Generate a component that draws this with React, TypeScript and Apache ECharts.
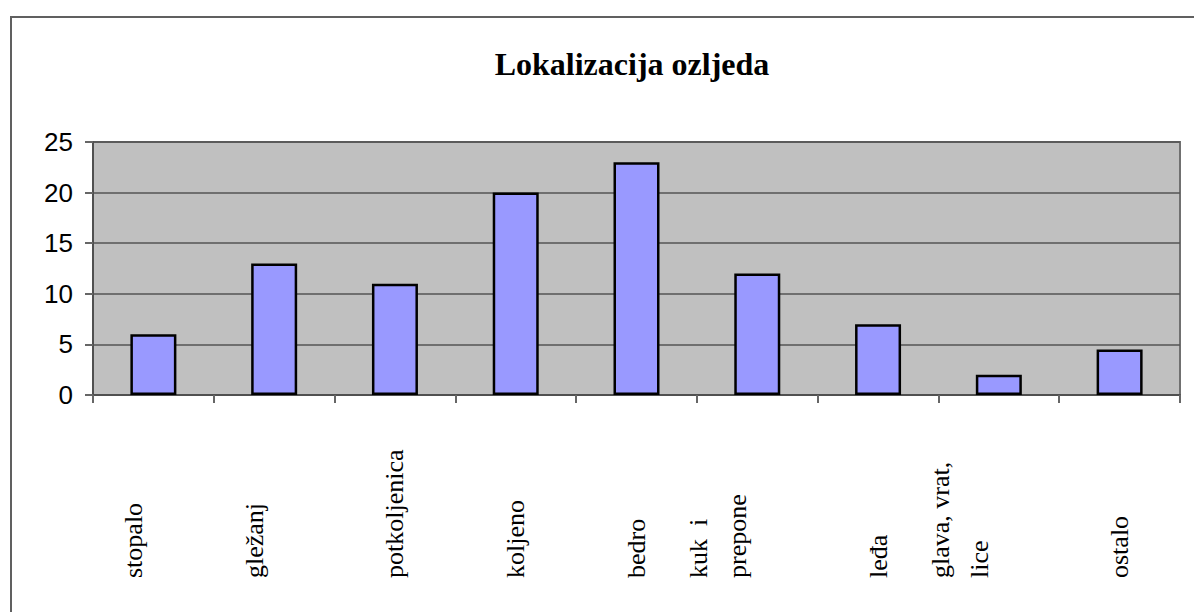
import React, { useEffect, useRef } from "react";
import * as echarts from "echarts";

const titleText = "Lokalizacija ozljeda";
const categories = [
  "stopalo",
  "gležanj",
  "potkoljenica",
  "koljeno",
  "bedro",
  "kuk  i\nprepone",
  "leđa",
  "glava, vrat,\nlice",
  "ostalo",
];
const values = [6, 13, 11, 20, 23, 12, 7, 2, 4.5];
// which side of the tick each rotated label leans to, as in the reference
const labelSide = ["bottom", "bottom", "middle", "middle", "middle", "bottom", "middle", "bottom", "middle"];
const yMin = 0;
const yMax = 25;
const yInterval = 5;

export default function App() {
  const ref = useRef<HTMLDivElement>(null);
  useEffect(() => {
    if (!ref.current) return;
    const chart = echarts.init(ref.current, undefined, { renderer: "svg" });
    const catData = categories.map((c, i) => ({
      value: c,
      textStyle: { align: "left", verticalAlign: labelSide[i] },
    }));
    chart.setOption({
      animation: false,
      backgroundColor: "#ffffff",
      grid: {
        left: 93,
        right: 14,
        top: 142,
        bottom: 217,
        show: true,
        outerBoundsMode: "none",
        backgroundColor: "#C0C0C0",
        borderColor: "#707070",
        borderWidth: 2,
      },
      xAxis: {
        type: "category",
        data: catData,
        axisLine: { show: true, lineStyle: { color: "#505050", width: 2 } },
        axisTick: { show: true, length: 8, lineStyle: { color: "#666666", width: 2 } },
        axisLabel: {
          interval: 0,
          rotate: 90,
          align: "left",
          verticalAlign: "middle",
          margin: 183,
          fontFamily: "'Liberation Serif', 'Times New Roman', serif",
          fontSize: 26,
          lineHeight: 39,
          color: "#000000",
        },
      },
      yAxis: {
        type: "value",
        min: yMin,
        max: yMax,
        interval: yInterval,
        axisLine: { show: true, lineStyle: { color: "#505050", width: 2 } },
        axisTick: { show: true, length: 8, lineStyle: { color: "#666666", width: 2 } },
        axisLabel: {
          margin: 20,
          fontFamily: "'Liberation Sans', Arial, sans-serif",
          fontSize: 26,
          color: "#000000",
        },
        splitLine: { show: true, lineStyle: { color: "#555555", width: 1.5 } },
      },
      series: [
        {
          type: "bar",
          data: values,
          barWidth: 46,
          itemStyle: { color: "#9999FF", borderColor: "#000000", borderWidth: 2.5 },
        },
      ],
      graphic: [
        {
          type: "rect",
          shape: { x: 11, y: 17, width: 1300, height: 700 },
          style: { fill: "none", stroke: "#606060", lineWidth: 2 },
        },
        {
          type: "text",
          x: 632,
          y: 64,
          style: {
            text: titleText,
            fontFamily: "'Liberation Serif', 'Times New Roman', serif",
            fontWeight: "bold",
            fontSize: 32,
            fill: "#000000",
            align: "center",
            verticalAlign: "middle",
          },
        },
      ],
    });
    return () => chart.dispose();
  }, []);
  return (
    <div
      ref={ref}
      style={{ position: "fixed", left: 0, top: 0, width: 1194, height: 612 }}
    />
  );
}
